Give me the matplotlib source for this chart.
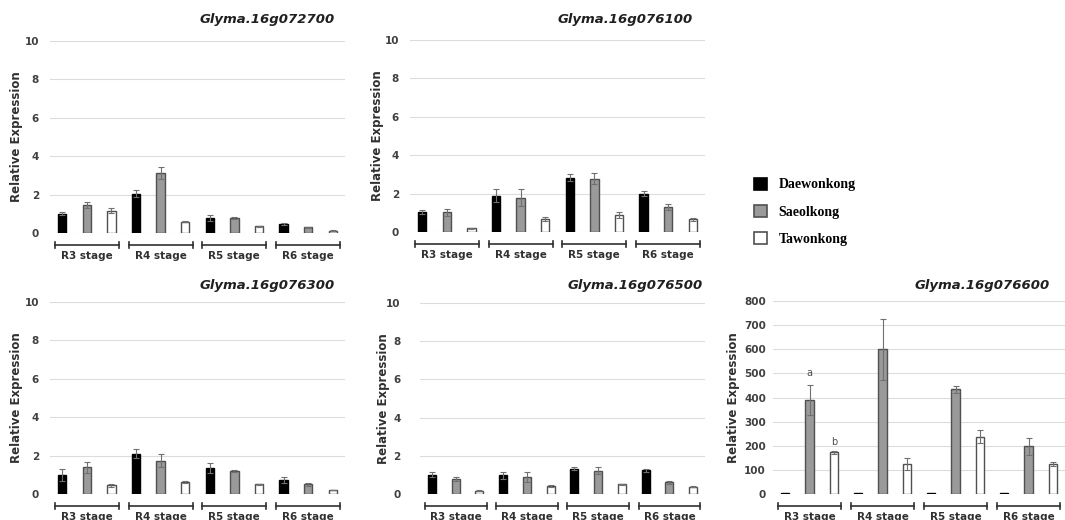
import matplotlib.pyplot as plt
from matplotlib.patches import Patch
import numpy as np

# data
stages = ["R3 stage", "R4 stage", "R5 stage", "R6 stage"]
cultivars = ["Daewonkong", "Saeolkong", "Tawonkong"]

genes = ["Glyma.16g072700", "Glyma.16g076100", "Glyma.16g076300",
         "Glyma.16g076500", "Glyma.16g076600"]

# mean values, one list per cultivar, one value per stage
g072700_mean = [[1.0, 2.05, 0.78, 0.46], [1.44, 3.13, 0.77, 0.30], [1.15, 0.58, 0.35, 0.12]]
g072700_err = [[0.07, 0.2, 0.17, 0.05], [0.15, 0.33, 0.04, 0.03], [0.13, 0.03, 0.03, 0.02]]

g076100_mean = [[1.03, 1.9, 2.83, 2.0], [1.03, 1.78, 2.78, 1.29], [0.2, 0.68, 0.9, 0.66]]
g076100_err = [[0.1, 0.33, 0.18, 0.12], [0.19, 0.45, 0.3, 0.16], [0.03, 0.1, 0.16, 0.07]]

g076300_mean = [[0.99, 2.09, 1.34, 0.73], [1.39, 1.74, 1.22, 0.5], [0.45, 0.63, 0.5, 0.21]]
g076300_err = [[0.3, 0.24, 0.26, 0.14], [0.3, 0.33, 0.05, 0.07], [0.07, 0.05, 0.02, 0.02]]

g076500_mean = [[1.01, 0.99, 1.33, 1.24], [0.79, 0.91, 1.22, 0.61], [0.17, 0.42, 0.51, 0.38]]
g076500_err = [[0.12, 0.18, 0.08, 0.07], [0.1, 0.26, 0.19, 0.07], [0.02, 0.03, 0.03, 0.02]]

g076600_mean = [[3, 3, 3, 3], [390, 599, 434, 198], [173, 124, 238, 124]]
g076600_err = [[0, 0, 0, 0], [62, 128, 15, 36], [6, 26, 26, 10]]

means = [g072700_mean, g076100_mean, g076300_mean, g076500_mean, g076600_mean]
errs = [g072700_err, g076100_err, g076300_err, g076500_err, g076600_err]
ymax = [10, 10, 10, 10, 800]
ystep = [2, 2, 2, 2, 100]

face = ["#000000", "#9a9a9a", "#ffffff"]
edge = ["#000000", "#505050", "#505050"]

W, H = 1065, 520
fig = plt.figure(figsize=(W / 100, H / 100), dpi=100)

# axes boxes in pixels: left, right, top (y of max tick), bottom (y of 0)
boxes = [(50, 345, 41, 233), (410, 705, 40, 232), (50, 345, 302, 494),
         (420, 705, 303, 494), (773, 1065, 301, 494)]
ylab_x = [17, 377, 17, 383, 733]
tick_pad = [8, 8, 8, 14, 5]
title_right = [335, 693, 335, 703, 1050]
title_y = [20, 19, 285, 286, 285]

tick_font = dict(fontsize=7.5, fontweight="bold", color="#404040")

for i, gene in enumerate(genes):
    l, r, t, b = boxes[i]
    ax = fig.add_axes([l / W, 1 - b / H, (r - l) / W, (b - t) / H])
    m = np.array(means[i])
    e = np.array(errs[i])
    for s in range(4):
        for c in range(3):
            x = s * 3 + c
            ax.bar(x, m[c, s], width=0.34, color=face[c], edgecolor=edge[c],
                   linewidth=1.0, zorder=3)
            if e[c, s] > 0:
                ax.errorbar(x, m[c, s], yerr=e[c, s], color="#707070",
                            elinewidth=0.8, capsize=2, capthick=0.8, zorder=4)
    ax.set_xlim(-0.5, 11.5)
    ax.set_ylim(0, ymax[i])
    ticks = np.arange(0, ymax[i] + 1, ystep[i])
    ax.set_yticks(ticks)
    ax.set_yticklabels([str(v) for v in ticks], **tick_font)
    ax.set_xticks([])
    ax.tick_params(axis="y", length=0, pad=tick_pad[i])
    ax.grid(axis="y", color="#dcdcdc", linewidth=0.8, zorder=0)
    for sp in ax.spines.values():
        sp.set_visible(False)

    # stage brackets under each group of three bars
    trans = ax.get_xaxis_transform()
    ah = b - t
    for s, name in enumerate(stages):
        x0, x1 = s * 3 - 0.3, s * 3 + 2.3
        yb = -12 / ah
        ax.plot([x0, x1], [yb, yb], color="#303030", lw=1.2, transform=trans, clip_on=False)
        for xx in (x0, x1):
            ax.plot([xx, xx], [yb - 3 / ah, yb + 3 / ah], color="#303030", lw=1.2,
                    transform=trans, clip_on=False)
        ax.text(s * 3 + 1, -23 / ah, name, transform=trans, ha="center", va="center",
                fontsize=7.5, fontweight="bold", color="#303030")

    fig.text(title_right[i] / W, 1 - title_y[i] / H, gene, ha="right", va="center",
             fontsize=9.5, fontweight="bold", style="italic", color="#202020")
    fig.text(ylab_x[i] / W, 1 - (t + b) / 2 / H, "Relative Expression", rotation=90,
             ha="center", va="center", fontsize=8.5, fontweight="bold", color="#303030")

    if i == 4:
        ax.text(1, m[1, 0] + e[1, 0] + 30, "a", ha="center", va="bottom", fontsize=7, color="#505050")
        ax.text(2, m[2, 0] + e[2, 0] + 15, "b", ha="center", va="bottom", fontsize=7, color="#505050")

handles = [Patch(facecolor=face[c], edgecolor=edge[c], linewidth=1.2) for c in range(3)]
leg = fig.legend(handles, cultivars, loc="upper left", bbox_to_anchor=(741 / W, 1 - 165 / H),
                 frameon=False, handlelength=1.0, handleheight=1.0, handletextpad=0.8,
                 labelspacing=0.95, prop=dict(family="Liberation Serif", weight="bold", size=10))

fig.savefig("out.png", dpi=100)
